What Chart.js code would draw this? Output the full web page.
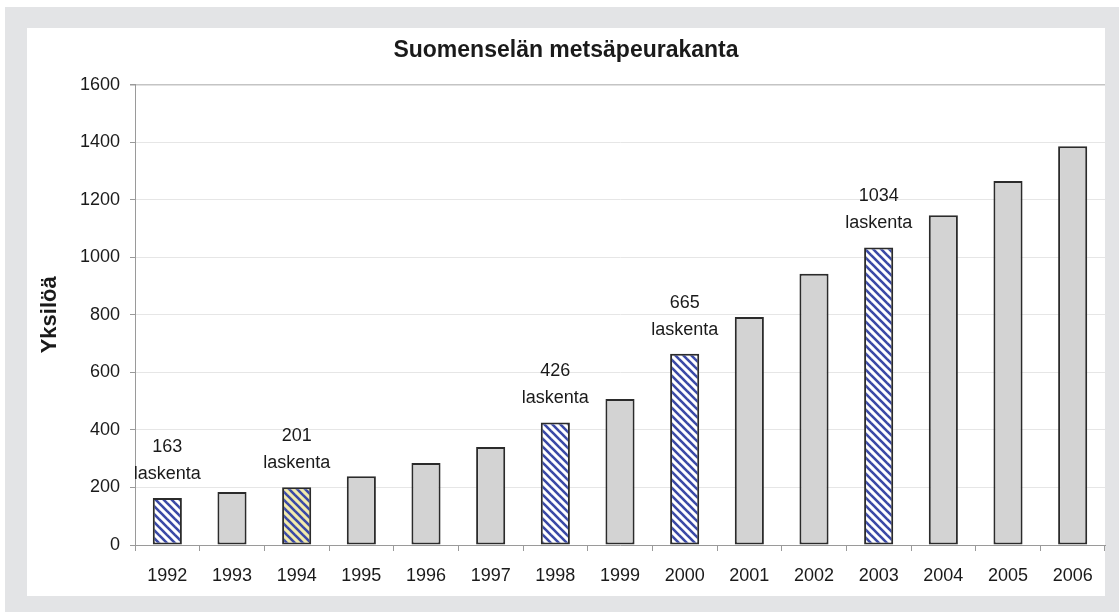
<!DOCTYPE html>
<html>
<head>
<meta charset="utf-8">
<script src="https://cdn.jsdelivr.net/npm/chart.js@4"></script>
<style>
  html, body { margin: 0; padding: 0; background: #fff; }
  #wrap { width: 1119px; height: 612px; }
</style>
</head>
<body>
<div id="wrap"><canvas id="chart" width="1119" height="612"></canvas></div>
<script>
// Suomenselän metsäpeurakanta, vuodet 1992-2006
const years = ['1992', '1993', '1994', '1995', '1996', '1997', '1998', '1999',
               '2000', '2001', '2002', '2003', '2004', '2005', '2006'];
const population = [163, 184, 201, 239, 285, 341, 426, 507, 665, 792, 943, 1034, 1146, 1265, 1386];
// years with an actual count ("laskenta")
const countYears = ['1992', '1994', '1998', '2000', '2003'];
const countLabel = 'laskenta';

const FONT = '"Liberation Sans", Arial, sans-serif';

// diagonal hatch for the counted years
function makeHatch(back, stripe) {
    const size = 8;
    const c = document.createElement('canvas');
    c.width = size;
    c.height = size;
    const g = c.getContext('2d');
    g.fillStyle = back;
    g.fillRect(0, 0, size, size);
    g.strokeStyle = stripe;
    g.lineWidth = 2.6;
    for (let k = -size; k <= size; k += size) {
        g.beginPath();
        g.moveTo(k - 1, -1);
        g.lineTo(k + size + 1, size + 1);
        g.stroke();
    }
    return g.createPattern(c, 'repeat');
}

const ctx = document.getElementById('chart').getContext('2d');
const blueHatch = makeHatch('#ffffff', '#3a49a6');
const creamHatch = makeHatch('#f3ebab', '#3a49a6');

const fills = years.map(y => {
    if (y === '1994') return creamHatch;
    if (countYears.includes(y)) return blueHatch;
    return '#d3d3d3';
});

// gray frame + white panel behind the chart
const panelPlugin = {
    id: 'panel',
    beforeDraw(chart) {
        const c = chart.ctx;
        c.save();
        c.fillStyle = '#ffffff';
        c.fillRect(0, 0, chart.width, chart.height);
        c.fillStyle = '#e3e4e6';
        c.fillRect(5, 7, chart.width - 5, chart.height - 7);
        c.fillStyle = '#ffffff';
        c.fillRect(27, 28, 1078, 568);
        c.restore();
    }
};

// "163 / laskenta" above counted bars
const countLabels = {
    id: 'countLabels',
    afterDatasetsDraw(chart) {
        const c = chart.ctx;
        const meta = chart.getDatasetMeta(0);
        c.save();
        c.font = '18px ' + FONT;
        c.fillStyle = '#1a1a1a';
        c.textAlign = 'center';
        c.textBaseline = 'middle';
        years.forEach((y, i) => {
            if (!countYears.includes(y)) return;
            const bar = meta.data[i];
            c.fillText(String(population[i]), bar.x, bar.y - 51);
            c.fillText(countLabel, bar.x, bar.y - 24);
        });
        c.restore();
    }
};

new Chart(ctx, {
    type: 'bar',
    data: {
        labels: years,
        datasets: [{
            label: 'Yksilöä',
            data: population,
            backgroundColor: fills,
            borderColor: '#2b2b2b',
            borderWidth: 2,
            borderSkipped: false,
            categoryPercentage: 1,
            barPercentage: 0.45
        }]
    },
    options: {
        responsive: false,
        animation: false,
        layout: {
            padding: { left: 27, right: 14, top: 28, bottom: 16 }
        },
        plugins: {
            legend: { display: false },
            tooltip: { enabled: false },
            title: {
                display: true,
                text: 'Suomenselän metsäpeurakanta',
                color: '#1a1a1a',
                font: { family: FONT, size: 23, weight: 'bold' },
                padding: { top: 9, bottom: 20 }
            }
        },
        scales: {
            x: {
                grid: {
                    drawOnChartArea: false,
                    drawTicks: true,
                    tickLength: 6,
                    tickColor: '#9a9a9a'
                },
                border: { display: true, color: '#9a9a9a', width: 1 },
                ticks: {
                    color: '#1a1a1a',
                    font: { family: FONT, size: 18 },
                    padding: 14,
                    maxRotation: 0,
                    autoSkip: false
                },
                afterFit(scale) { scale.height = 51; }
            },
            y: {
                min: 0,
                max: 1600,
                ticks: {
                    stepSize: 200,
                    color: '#1a1a1a',
                    font: { family: FONT, size: 18 },
                    padding: 10,
                    callback: v => String(v)
                },
                grid: {
                    color: ctx => ctx.tick && ctx.tick.value === 1600 ? '#c4c4c4' : '#e6e6e6',
                    lineWidth: ctx => ctx.tick && ctx.tick.value === 1600 ? 1.5 : 1,
                    tickLength: 5,
                    tickColor: '#9a9a9a'
                },
                border: { display: true, color: '#9a9a9a', width: 1 },
                title: {
                    display: true,
                    text: 'Yksilöä',
                    color: '#1a1a1a',
                    font: { family: FONT, size: 22, weight: 'bold' },
                    padding: { top: 10, bottom: 0 }
                },
                afterFit(scale) { scale.width = 108; }
            }
        }
    },
    plugins: [panelPlugin, countLabels]
});
</script>
</body>
</html>
